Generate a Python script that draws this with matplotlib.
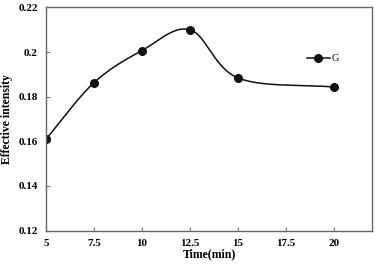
import numpy as np
import matplotlib
matplotlib.use("Agg")
import matplotlib.pyplot as plt

# data
time_min = [5, 7.5, 10, 12.5, 15, 20]
intensity = [0.161, 0.1863, 0.2007, 0.210, 0.1884, 0.1843]
series_label = "G"

x_ticks = [5, 7.5, 10, 12.5, 15, 17.5, 20]
x_tick_labels = ["5", "7.5", "10", "12.5", "15", "17.5", "20"]
y_ticks = [0.12, 0.14, 0.16, 0.18, 0.2, 0.22]
y_tick_labels = ["0.12", "0.14", "0.16", "0.18", "0.2", "0.22"]


def smooth_line(xs, ys, n=40):
    '''Excel-like smoothed line through the points (Catmull-Rom, parametric).'''
    p = np.column_stack([xs, ys]).astype(float)
    # scale y so the curve shape matches the on-screen aspect
    scale = np.array([1.0 / 17.0, 1.0 / 0.1 * 0.68])
    q = p * scale
    q = np.vstack([q[0] + (q[0] - q[1]), q, q[-1] + (q[-1] - q[-2])])
    out = []
    for i in range(1, len(q) - 2):
        p0, p1, p2, p3 = q[i - 1], q[i], q[i + 1], q[i + 2]
        c1 = p1 + (p2 - p0) / 6.0
        c2 = p2 - (p3 - p1) / 6.0
        t = np.linspace(0, 1, n)[:, None]
        seg = ((1 - t) ** 3 * p1 + 3 * (1 - t) ** 2 * t * c1
               + 3 * (1 - t) * t ** 2 * c2 + t ** 3 * p2)
        out.append(seg if i == 1 else seg[1:])
    out = np.vstack(out) / scale
    return out[:, 0], out[:, 1]


plt.rcParams['font.family'] = ['Liberation Serif', 'DejaVu Serif']

fig = plt.figure(figsize=(3.78, 2.67), dpi=100)
ax = fig.add_axes([0.1217, 0.1367, 0.8637, 0.8353])

sx, sy = smooth_line(time_min, intensity)
ax.plot(sx, sy, color='#111111', linewidth=1.1)
ax.plot(time_min, intensity, linestyle='none', marker='o', markersize=5.5,
        color='#111111')
# legend handle: line + marker
ax.plot([], [], color='#111111', linewidth=1.1, marker='o', markersize=5.5,
        label=series_label)

ax.set_xlim(5, 22)
ax.set_ylim(0.12, 0.22)
ax.set_xticks(x_ticks)
ax.set_xticklabels(x_tick_labels, fontweight='bold', fontsize=8)
ax.set_yticks(y_ticks)
ax.set_yticklabels(y_tick_labels, fontweight='bold', fontsize=8)
ax.tick_params(direction='in', length=3, width=0.8, color='#777777', pad=6)

for s in ax.spines.values():
    s.set_color('#666666')
    s.set_linewidth(1.0)

ax.set_xlabel("Time(min)", fontweight='bold', fontsize=8.5, labelpad=0)
ax.set_ylabel("Effective intensity", fontweight='bold', fontsize=8.5, labelpad=4)

leg = ax.legend(loc='center left', bbox_to_anchor=(0.77, 0.77), frameon=False,
                fontsize=7.5, handlelength=2.2, handletextpad=0.2)

fig.savefig("out.png", dpi=100)
